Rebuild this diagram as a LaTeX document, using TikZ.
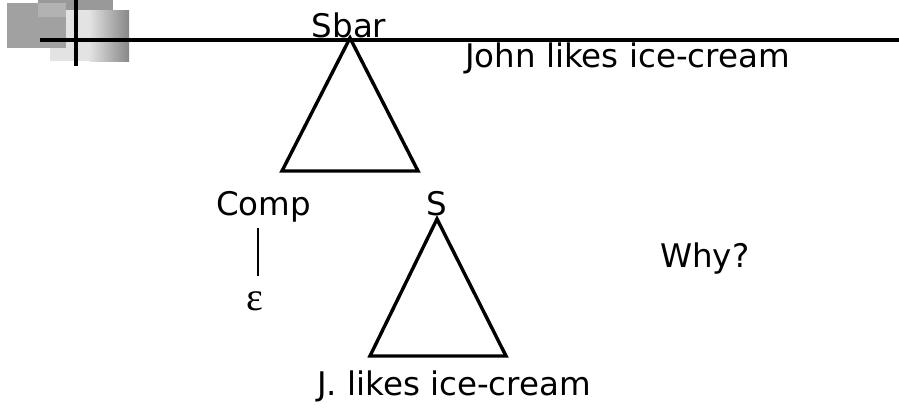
\documentclass[tikz,border=0pt]{standalone}
\usepackage{fontspec}
\setmainfont{DejaVu Sans}
\newfontfamily\greekfont{Liberation Serif}
\begin{document}
\begin{tikzpicture}[x=1pt,y=-1pt,
  lbl/.style={inner sep=0pt,font=\fontsize{32.5}{36}\selectfont},
  tri/.style={line width=3.4pt,line join=miter},
  rule/.style={line width=3.4pt,black}]
\useasboundingbox (0,0) rectangle (899,410);
% decorative blocks
\fill[black!40] (38,0) rectangle (113,10);
\fill[black!11] (50,10) rectangle (90,61);
\shade[left color=black!12,right color=black!47] (90,10) rectangle (129,61);
\fill[black!37] (7,3) rectangle (66,48);
\fill[black!30] (38,3) rectangle (66,17);
\draw[rule] (76,0) -- (76,66);
\draw[rule] (40,40) -- (899,40);
% texts
\node[lbl,anchor=base] (sbar) at (349,37) {Sbar};
\node[lbl,anchor=base west] (john) at (465,67) {John likes ice-cream};
\node[lbl,anchor=base west] (comp) at (216,215) {Comp};
\node[lbl,anchor=base] (s) at (437,215) {S};
\node[lbl,anchor=base west] (why) at (660,267) {Why?};
\node[lbl,anchor=base] (jlikes) at (454,395) {J. likes ice-cream};
\node[inner sep=0pt,anchor=base,font=\greekfont\fontsize{40}{40}\selectfont] (eps) at (255,310) {ε};
% triangles
\coordinate (t1a) at (350,38);
\coordinate (t1l) at (282,171);
\coordinate (t1r) at (418,171);
\draw[tri] (t1a) -- (t1l) -- (t1r) -- cycle;
\coordinate (t2a) at (437,219);
\coordinate (t2l) at (370,356);
\coordinate (t2r) at (506,356);
\draw[tri] (t2a) -- (t2l) -- (t2r) -- cycle;
% comp line
\coordinate (c1) at (258,228);
\coordinate (c2) at (258,276);
\draw[line width=2.4pt] (c1) -- (c2);
\end{tikzpicture}
\end{document}
